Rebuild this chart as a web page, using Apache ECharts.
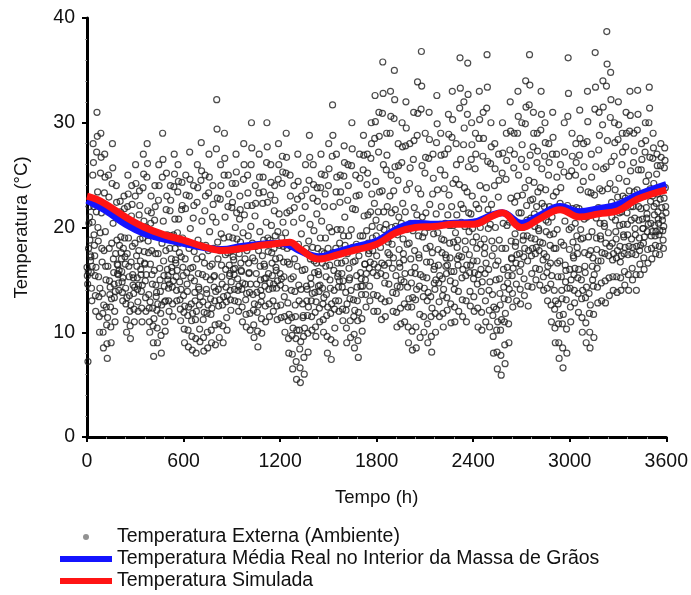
<!DOCTYPE html>
<html>
<head>
<meta charset="utf-8">
<script src="https://cdn.jsdelivr.net/npm/echarts@6/dist/echarts.min.js"></script>
<style>
  html, body { margin: 0; padding: 0; background: #fff; }
  #chart { width: 691px; height: 595px; }
</style>
</head>
<body>
<div id="chart"></div>
<script>
// horas do dia das leituras (a cada 2 h)
const horasDoDia = [0, 2, 4, 6, 8, 10, 12, 14, 16, 18, 20, 22];

// temperatura externa (ambiente), uma linha por dia, 150 dias
const externa = [
  [16.2, 15.4, 14.6, 7.2, 15.8, 18.0, 20.4, 22.0, 21.0, 18.8, 17.4, 16.8],
  [17.2, 15.7, 14.2, 13.0, 16.3, 20.5, 25.0, 28.0, 26.2, 22.0, 19.3, 18.3],
  [17.3, 15.4, 13.5, 12.0, 16.2, 21.5, 27.2, 31.0, 28.7, 23.4, 20.0, 18.7],
  [15.3, 13.4, 11.5, 10.0, 14.2, 19.5, 25.2, 29.0, 26.7, 21.4, 18.0, 16.7],
  [13.7, 11.8, 10.0, 8.5, 12.6, 17.8, 23.3, 27.0, 24.8, 19.6, 16.3, 15.0],
  [12.4, 10.7, 8.9, 7.5, 11.4, 16.3, 21.5, 25.0, 22.9, 18.0, 14.9, 13.6],
  [14.3, 12.4, 10.5, 9.0, 13.2, 18.5, 24.2, 28.0, 25.7, 20.4, 17.0, 15.7],
  [14.6, 13.3, 12.0, 11.0, 13.9, 17.5, 21.4, 24.0, 22.4, 18.8, 16.5, 15.6],
  [16.4, 15.5, 14.7, 14.0, 15.9, 18.3, 20.8, 22.5, 21.5, 19.1, 17.6, 17.0],
  [15.8, 14.8, 13.8, 13.0, 15.2, 18.0, 21.0, 23.0, 21.8, 19.0, 17.2, 16.5],
  [14.2, 12.7, 11.2, 10.0, 13.3, 17.5, 22.0, 25.0, 23.2, 19.0, 16.3, 15.3],
  [13.5, 12.0, 10.6, 9.4, 12.6, 16.7, 21.1, 24.0, 22.2, 18.2, 15.5, 14.5],
  [15.2, 13.7, 12.2, 11.0, 14.3, 18.5, 23.0, 26.0, 24.2, 20.0, 17.3, 16.3],
  [15.2, 14.1, 12.9, 12.0, 14.5, 17.8, 21.2, 23.5, 22.1, 18.9, 16.8, 16.0],
  [15.5, 13.9, 12.3, 11.0, 14.5, 19.0, 23.8, 27.0, 25.1, 20.6, 17.7, 16.6],
  [16.5, 14.9, 13.3, 12.0, 15.5, 20.0, 24.8, 28.0, 26.1, 21.6, 18.7, 17.6],
  [13.6, 12.3, 11.0, 10.0, 12.9, 16.5, 20.4, 23.0, 21.4, 17.8, 15.5, 14.6],
  [12.3, 10.6, 9.0, 7.7, 11.3, 15.9, 20.7, 24.0, 22.0, 17.5, 14.5, 13.4],
  [13.8, 12.1, 10.4, 9.0, 12.7, 17.5, 22.6, 26.0, 24.0, 19.2, 16.1, 15.0],
  [13.9, 11.8, 9.7, 8.0, 12.6, 18.5, 24.8, 29.0, 26.5, 20.6, 16.8, 15.4],
  [14.4, 12.9, 11.0, 10.1, 13.0, 17.8, 21.7, 25.2, 23.0, 19.3, 16.0, 15.0],
  [15.4, 14.2, 13.0, 12.0, 14.6, 18.0, 21.6, 24.0, 22.6, 19.2, 17.0, 16.2],
  [15.8, 14.3, 12.7, 11.5, 14.9, 19.3, 23.9, 27.0, 25.1, 20.8, 18.0, 16.9],
  [16.6, 15.3, 14.0, 13.0, 15.9, 19.5, 23.4, 26.0, 24.4, 20.8, 18.5, 17.6],
  [14.8, 13.1, 12.2, 11.1, 14.1, 17.2, 21.7, 24.3, 22.1, 19.0, 16.2, 15.4],
  [13.5, 11.9, 10.3, 9.0, 12.5, 17.0, 21.8, 25.0, 23.1, 18.6, 15.7, 14.6],
  [13.9, 11.6, 10.2, 8.6, 12.4, 18.0, 23.0, 27.2, 24.6, 19.9, 16.1, 15.2],
  [12.7, 11.1, 9.6, 8.3, 11.8, 16.2, 20.9, 24.0, 22.1, 17.7, 14.9, 13.8],
  [13.0, 11.2, 9.4, 8.0, 12.0, 17.0, 22.4, 26.0, 23.8, 18.8, 15.6, 14.3],
  [14.1, 12.6, 10.3, 9.1, 13.4, 18.3, 24.5, 28.1, 25.4, 20.6, 17.2, 15.5],
  [12.9, 11.2, 9.5, 8.2, 11.9, 16.6, 21.6, 25.0, 23.0, 18.3, 15.3, 14.1],
  [13.7, 11.8, 10.0, 8.5, 12.6, 17.8, 23.3, 27.0, 24.8, 19.6, 16.3, 15.0],
  [13.2, 11.7, 10.2, 9.0, 12.3, 16.5, 21.0, 24.0, 22.2, 18.0, 15.3, 14.3],
  [15.4, 13.0, 10.7, 8.8, 13.9, 20.5, 27.5, 32.2, 29.4, 22.8, 18.6, 17.0],
  [14.1, 12.5, 10.8, 9.5, 13.1, 17.8, 22.7, 26.0, 24.0, 19.4, 16.4, 15.3],
  [14.6, 12.6, 10.6, 9.0, 13.4, 19.0, 25.0, 29.0, 26.6, 21.0, 17.4, 16.0],
  [14.3, 12.9, 11.4, 10.2, 13.5, 17.6, 22.0, 25.0, 23.2, 19.1, 16.4, 15.4],
  [15.6, 14.0, 13.1, 12.1, 14.8, 17.8, 21.9, 24.2, 22.4, 19.0, 17.2, 16.0],
  [16.9, 15.5, 14.1, 13.0, 16.1, 20.0, 24.2, 27.0, 25.3, 21.4, 18.9, 17.9],
  [15.1, 14.0, 12.9, 12.0, 14.4, 17.5, 20.8, 23.0, 21.7, 18.6, 16.6, 15.9],
  [15.8, 14.1, 12.4, 11.0, 14.7, 19.5, 24.6, 28.0, 26.0, 21.2, 18.1, 17.0],
  [14.6, 13.1, 11.7, 10.5, 13.7, 17.8, 22.1, 25.0, 23.3, 19.2, 16.6, 15.6],
  [15.7, 13.8, 11.8, 10.2, 14.6, 20.1, 26.0, 30.0, 27.6, 22.1, 18.5, 17.1],
  [13.6, 12.1, 10.7, 9.5, 12.7, 16.8, 21.1, 24.0, 22.3, 18.2, 15.6, 14.6],
  [13.8, 11.9, 10.1, 8.6, 12.6, 17.8, 23.3, 27.0, 24.8, 19.6, 16.3, 15.0],
  [14.0, 12.9, 11.3, 9.9, 13.5, 17.3, 22.3, 24.8, 23.4, 18.8, 16.5, 15.1],
  [16.3, 14.4, 12.5, 11.0, 15.2, 20.5, 26.2, 30.0, 27.7, 22.4, 19.0, 17.7],
  [15.6, 14.1, 12.7, 11.5, 14.7, 18.8, 23.1, 26.0, 24.3, 20.2, 17.6, 16.6],
  [15.4, 14.2, 13.0, 12.0, 14.6, 18.0, 21.6, 24.0, 22.6, 19.2, 17.0, 16.2],
  [15.9, 14.2, 12.5, 11.2, 14.9, 19.6, 24.6, 28.0, 26.0, 21.3, 18.3, 17.1],
  [15.6, 14.5, 12.6, 11.4, 15.1, 19.0, 24.2, 26.8, 25.3, 20.5, 18.2, 16.7],
  [15.3, 13.4, 11.5, 10.0, 14.2, 19.5, 25.2, 29.0, 26.7, 21.4, 18.0, 16.7],
  [12.8, 11.1, 9.4, 8.0, 11.7, 16.5, 21.6, 25.0, 23.0, 18.2, 15.1, 14.0],
  [11.4, 9.7, 7.9, 6.5, 10.4, 15.3, 20.5, 24.0, 21.9, 17.0, 13.9, 12.6],
  [11.5, 9.4, 7.2, 5.5, 10.2, 16.3, 22.7, 27.0, 24.4, 18.4, 14.5, 13.0],
  [10.2, 8.4, 6.6, 5.2, 9.1, 14.1, 19.4, 23.0, 20.9, 15.9, 12.7, 11.4],
  [11.6, 9.6, 7.6, 6.0, 10.4, 16.0, 22.0, 26.0, 23.6, 18.0, 14.4, 13.0],
  [14.1, 11.6, 9.9, 8.1, 12.4, 18.7, 24.5, 28.8, 26.7, 20.3, 17.0, 15.2],
  [14.6, 13.0, 11.5, 10.2, 13.7, 18.1, 22.8, 26.0, 24.1, 19.7, 16.8, 15.7],
  [13.8, 11.9, 10.5, 9.6, 12.9, 16.6, 21.3, 23.8, 22.5, 18.0, 15.8, 14.4],
  [15.5, 13.9, 12.3, 11.0, 14.5, 19.0, 23.8, 27.0, 25.1, 20.6, 17.7, 16.6],
  [14.2, 12.7, 11.2, 10.0, 13.3, 17.5, 22.0, 25.0, 23.2, 19.0, 16.3, 15.3],
  [13.6, 11.6, 9.6, 8.0, 12.4, 18.0, 24.0, 28.0, 25.6, 20.0, 16.4, 15.0],
  [14.2, 11.8, 9.3, 7.4, 12.7, 19.6, 26.8, 31.7, 28.8, 22.0, 17.6, 15.9],
  [14.0, 12.2, 10.4, 9.0, 13.0, 18.0, 23.4, 27.0, 24.8, 19.8, 16.6, 15.3],
  [15.6, 14.3, 13.0, 12.0, 14.9, 18.5, 22.4, 25.0, 23.4, 19.8, 17.5, 16.6],
  [15.6, 14.3, 12.2, 11.1, 14.9, 19.2, 24.9, 27.8, 26.2, 21.0, 18.3, 16.8],
  [13.8, 12.1, 10.4, 9.0, 12.7, 17.5, 22.6, 26.0, 24.0, 19.2, 16.1, 15.0],
  [15.2, 13.2, 11.1, 9.5, 14.0, 19.8, 25.9, 30.0, 27.5, 21.8, 18.1, 16.7],
  [13.1, 11.5, 9.8, 8.5, 12.1, 16.8, 21.7, 25.0, 23.0, 18.4, 15.4, 14.3],
  [13.0, 11.1, 9.2, 7.6, 11.9, 17.3, 23.1, 27.0, 24.7, 19.2, 15.7, 14.4],
  [15.1, 13.6, 11.3, 10.1, 14.4, 19.2, 25.5, 28.8, 26.9, 21.1, 18.2, 16.5],
  [16.5, 15.0, 13.6, 12.4, 15.6, 19.7, 24.1, 27.0, 25.2, 21.2, 18.5, 17.5],
  [17.8, 16.1, 14.4, 13.0, 16.7, 21.5, 26.6, 30.0, 28.0, 23.2, 20.1, 19.0],
  [17.8, 15.7, 13.6, 12.0, 16.5, 22.3, 28.5, 32.6, 30.1, 24.4, 20.7, 19.2],
  [17.3, 15.4, 13.5, 12.0, 16.2, 21.5, 27.2, 31.0, 28.7, 23.4, 20.0, 18.7],
  [18.1, 15.6, 13.2, 11.2, 16.6, 23.5, 30.9, 35.8, 32.8, 26.0, 21.5, 19.8],
  [16.4, 14.7, 12.9, 11.5, 15.4, 20.3, 25.5, 29.0, 26.9, 22.0, 18.9, 17.6],
  [18.6, 16.6, 14.6, 13.0, 17.4, 23.0, 29.0, 33.0, 30.6, 25.0, 21.4, 20.0],
  [18.4, 16.1, 13.8, 12.0, 17.1, 23.5, 30.4, 35.0, 32.2, 25.8, 21.7, 20.1],
  [15.4, 13.7, 11.9, 10.5, 14.4, 19.3, 24.5, 28.0, 25.9, 21.0, 17.9, 16.6],
  [16.2, 14.3, 12.3, 10.8, 15.0, 20.4, 26.2, 30.0, 27.7, 22.3, 18.9, 17.5],
  [16.9, 14.8, 12.7, 11.0, 15.6, 21.5, 27.8, 32.0, 29.5, 23.6, 19.8, 18.4],
  [14.3, 12.4, 10.5, 9.0, 13.2, 18.5, 24.2, 28.0, 25.7, 20.4, 17.0, 15.7],
  [14.7, 12.4, 10.1, 8.3, 13.3, 19.7, 26.5, 31.0, 28.3, 21.9, 17.8, 16.2],
  [15.6, 13.1, 10.5, 8.5, 14.1, 21.2, 28.8, 33.9, 30.9, 23.7, 19.2, 17.4],
  [17.1, 14.4, 11.7, 9.5, 15.5, 23.2, 31.3, 36.8, 33.5, 25.9, 21.0, 19.1],
  [15.3, 13.4, 11.5, 10.0, 14.2, 19.5, 25.2, 29.0, 26.7, 21.4, 18.0, 16.7],
  [15.2, 13.0, 10.8, 9.0, 13.8, 20.0, 26.6, 31.0, 28.4, 22.2, 18.2, 16.7],
  [13.4, 11.5, 9.6, 8.1, 12.3, 17.6, 23.2, 27.0, 24.7, 19.4, 16.0, 14.7],
  [16.3, 14.1, 11.8, 10.0, 15.0, 21.3, 28.1, 32.6, 29.9, 23.6, 19.5, 17.9],
  [16.4, 14.7, 12.9, 11.5, 15.4, 20.3, 25.5, 29.0, 26.9, 22.0, 18.9, 17.6],
  [15.1, 13.5, 11.8, 10.5, 14.1, 18.8, 23.7, 27.0, 25.0, 20.4, 17.4, 16.3],
  [17.1, 15.6, 13.3, 12.1, 16.4, 21.2, 27.5, 30.8, 28.9, 23.1, 20.2, 18.5],
  [17.1, 14.9, 12.7, 10.9, 15.8, 22.0, 28.6, 33.0, 30.3, 24.2, 20.2, 18.6],
  [15.8, 14.1, 12.4, 11.0, 14.7, 19.5, 24.6, 28.0, 26.0, 21.2, 18.1, 17.0],
  [18.8, 16.4, 13.9, 12.0, 17.3, 24.1, 31.4, 36.2, 33.3, 26.5, 22.2, 20.5],
  [17.2, 15.2, 13.1, 11.5, 16.0, 21.8, 27.9, 32.0, 29.5, 23.8, 20.1, 18.7],
  [17.9, 15.4, 13.0, 11.0, 16.4, 23.4, 30.8, 35.7, 32.7, 25.8, 21.4, 19.6],
  [17.4, 15.7, 13.9, 12.5, 16.4, 21.3, 26.5, 30.0, 27.9, 23.0, 19.9, 18.6],
  [16.8, 15.1, 13.4, 12.0, 15.7, 20.5, 25.6, 29.0, 27.0, 22.2, 19.1, 18.0],
  [16.8, 14.6, 12.3, 10.5, 15.5, 21.8, 28.5, 33.0, 30.3, 24.0, 20.0, 18.4],
  [16.0, 13.9, 11.9, 10.2, 14.8, 20.6, 26.8, 31.0, 28.5, 22.7, 18.9, 17.5],
  [18.1, 15.6, 13.0, 11.0, 16.6, 23.8, 31.4, 36.5, 33.4, 26.3, 21.7, 19.9],
  [16.0, 14.0, 12.1, 10.5, 14.8, 20.3, 26.1, 30.0, 27.7, 22.2, 18.7, 17.3],
  [13.6, 11.6, 9.6, 8.0, 12.4, 18.0, 24.0, 28.0, 25.6, 20.0, 16.4, 15.0],
  [12.2, 10.2, 8.1, 6.5, 11.0, 16.8, 22.9, 27.0, 24.5, 18.8, 15.1, 13.7],
  [12.6, 10.2, 7.8, 5.9, 11.2, 18.0, 25.2, 30.0, 27.1, 20.4, 16.0, 14.3],
  [13.2, 11.0, 8.8, 7.0, 11.8, 18.0, 24.6, 29.0, 26.4, 20.2, 16.2, 14.7],
  [15.4, 13.1, 10.8, 9.0, 14.1, 20.5, 27.4, 32.0, 29.2, 22.8, 18.7, 17.1],
  [17.0, 15.4, 13.7, 12.4, 16.1, 20.7, 25.7, 29.0, 27.0, 22.4, 19.4, 18.2],
  [18.6, 16.6, 14.6, 13.0, 17.4, 23.0, 29.0, 33.0, 30.6, 25.0, 21.4, 20.0],
  [17.5, 15.8, 14.1, 12.7, 16.5, 21.4, 26.5, 30.0, 27.9, 23.1, 20.0, 18.8],
  [19.2, 17.2, 15.1, 13.5, 18.0, 23.8, 29.9, 34.0, 31.5, 25.8, 22.1, 20.7],
  [19.2, 16.8, 14.4, 12.5, 17.8, 24.5, 31.7, 36.5, 33.6, 26.9, 22.6, 20.9],
  [19.0, 17.3, 15.6, 14.3, 18.0, 22.7, 27.7, 31.0, 29.0, 24.3, 21.3, 20.1],
  [18.9, 17.5, 16.1, 15.0, 18.1, 22.0, 26.2, 29.0, 27.3, 23.4, 20.9, 19.9],
  [19.7, 17.8, 16.0, 14.5, 18.6, 23.8, 29.3, 33.0, 30.8, 25.6, 22.3, 21.0],
  [18.5, 16.9, 15.3, 14.0, 17.5, 22.0, 26.8, 30.0, 28.1, 23.6, 20.7, 19.6],
  [17.2, 15.7, 14.2, 13.0, 16.3, 20.5, 25.0, 28.0, 26.2, 22.0, 19.3, 18.3],
  [16.6, 14.6, 12.6, 11.0, 15.4, 21.0, 27.0, 31.0, 28.6, 23.0, 19.4, 18.0],
  [14.0, 12.2, 10.4, 9.0, 13.0, 18.0, 23.4, 27.0, 24.8, 19.8, 16.6, 15.3],
  [12.7, 10.8, 9.0, 7.5, 11.6, 16.8, 22.3, 26.0, 23.8, 18.6, 15.3, 14.0],
  [13.2, 10.8, 8.5, 6.6, 11.7, 18.3, 25.3, 30.0, 27.2, 20.6, 16.4, 14.8],
  [15.9, 13.1, 10.3, 8.0, 14.2, 22.1, 30.6, 36.2, 32.8, 24.9, 19.8, 17.9],
  [16.0, 14.2, 12.4, 11.0, 15.0, 20.0, 25.4, 29.0, 26.8, 21.8, 18.6, 17.3],
  [17.1, 15.5, 14.0, 12.8, 16.1, 20.4, 25.0, 28.0, 26.2, 21.9, 19.2, 18.1],
  [17.5, 15.2, 13.7, 11.9, 16.0, 21.8, 26.9, 31.2, 28.5, 23.6, 19.8, 18.9],
  [15.0, 13.2, 11.4, 10.0, 14.0, 19.0, 24.4, 28.0, 25.8, 20.8, 17.6, 16.3],
  [15.7, 13.3, 10.9, 9.0, 14.3, 21.0, 28.2, 33.0, 30.1, 23.4, 19.1, 17.4],
  [13.7, 11.8, 10.0, 8.5, 12.6, 17.8, 23.3, 27.0, 24.8, 19.6, 16.3, 15.0],
  [17.1, 14.4, 11.7, 9.5, 15.5, 23.1, 31.3, 36.7, 33.4, 25.8, 20.9, 19.0],
  [17.9, 16.1, 14.3, 12.8, 16.8, 21.9, 27.4, 31.0, 28.8, 23.7, 20.4, 19.2],
  [18.9, 16.8, 14.7, 13.0, 17.6, 23.5, 29.8, 34.0, 31.5, 25.6, 21.8, 20.4],
  [20.1, 17.5, 14.9, 12.8, 18.5, 25.8, 33.5, 38.7, 35.6, 28.3, 23.7, 21.9],
  [19.5, 17.3, 15.2, 13.5, 18.2, 24.2, 30.5, 34.8, 32.2, 26.3, 22.4, 21.0],
  [18.5, 16.9, 15.3, 14.0, 17.5, 22.0, 26.8, 30.0, 28.1, 23.6, 20.7, 19.6],
  [18.9, 17.1, 15.3, 13.8, 17.8, 22.9, 28.4, 32.0, 29.8, 24.7, 21.4, 20.2],
  [18.2, 16.7, 15.2, 14.0, 17.3, 21.5, 26.0, 29.0, 27.2, 23.0, 20.3, 19.3],
  [19.1, 17.5, 15.8, 14.5, 18.1, 22.8, 27.7, 31.0, 29.0, 24.4, 21.4, 20.3],
  [19.3, 17.4, 15.5, 14.0, 18.2, 23.5, 29.2, 33.0, 30.7, 25.4, 22.0, 20.7],
  [18.9, 17.5, 16.1, 15.0, 18.1, 22.0, 26.2, 29.0, 27.3, 23.4, 20.9, 19.9],
  [19.3, 17.4, 15.5, 14.0, 18.2, 23.6, 29.3, 33.1, 30.8, 25.5, 22.0, 20.7],
  [19.0, 17.8, 16.5, 15.5, 18.3, 21.8, 25.5, 28.0, 26.5, 23.0, 20.8, 19.9],
  [19.9, 18.5, 17.1, 16.0, 19.1, 23.0, 27.2, 30.0, 28.3, 24.4, 21.9, 20.9],
  [21.3, 19.6, 17.9, 16.6, 20.3, 25.0, 30.0, 33.4, 31.4, 26.7, 23.7, 22.5],
  [20.4, 19.2, 18.0, 17.0, 19.6, 23.0, 26.6, 29.0, 27.6, 24.2, 22.0, 21.2],
  [20.2, 19.2, 18.3, 17.5, 19.6, 22.3, 25.1, 27.0, 25.9, 23.2, 21.5, 20.8],
  [20.4, 19.3, 18.2, 17.4, 19.7, 22.7, 25.9, 28.0, 26.7, 23.8, 21.9, 21.1],
  [20.7, 19.7, 18.8, 18.0, 20.1, 22.8, 25.7, 27.6, 26.4, 23.8, 22.0, 21.4]
];

// curvas da massa de graos
const horasLinha = [0, 60, 120, 240, 360, 480, 600, 720, 840, 960, 1080, 1200, 1260, 1320, 1440, 1560, 1680, 1800, 1920, 2040, 2160, 2280, 2400, 2520, 2580, 2700, 2820, 2940, 3060, 3180, 3300, 3420, 3600];
const tempReal = [22.6, 22.1, 21.6, 20.3, 19.4, 18.9, 18.5, 18.1, 17.9, 18.2, 18.4, 18.5, 18.3, 17.8, 17.2, 17.7, 18.2, 18.7, 19.8, 20.4, 20.3, 20.4, 20.5, 21.2, 21.4, 20.4, 21.2, 22.0, 21.5, 21.8, 22.2, 23.1, 24.1];
const tempSimulada = [23.0, 22.7, 22.2, 21.0, 20.0, 19.3, 18.8, 18.2, 17.8, 18.0, 18.3, 18.5, 18.6, 18.0, 17.0, 17.4, 17.9, 18.4, 19.5, 20.0, 20.1, 20.3, 20.3, 21.1, 21.4, 20.0, 20.9, 21.7, 21.0, 21.3, 21.6, 22.7, 23.6];

const nomes = [
  "Temperatura Externa (Ambiente)",
  "Temperatura Média Real no Interior da Massa de Grãos",
  "Temperatura Simulada"
];

const pontosExterna = [];
externa.forEach((dia, d) => {
  dia.forEach((t, k) => pontosExterna.push([d * 24 + horasDoDia[k], t]));
});

const fonte = "'Liberation Sans', Arial, sans-serif";
const eixo = {
  axisLine: { show: true, lineStyle: { color: "#000", width: 3 } },
  axisTick: { show: true, inside: false, length: 5, lineStyle: { color: "#000", width: 2 } },
  minorTick: { show: true, splitNumber: 5, length: 2, lineStyle: { color: "#999", width: 1 } },
  splitLine: { show: false },
  axisLabel: { color: "#111", fontSize: 19.5, fontFamily: fonte, formatter: (v) => String(v) }
};

const chart = echarts.init(document.getElementById("chart"));
chart.setOption({
  backgroundColor: "#fff",
  animation: false,
  grid: { left: 87, right: 24, top: 18, bottom: 158 },
  xAxis: Object.assign({
    type: "value", min: 0, max: 3600, interval: 600,
    name: "Tempo (h)", nameLocation: "middle", nameGap: 51,
    nameTextStyle: { color: "#111", fontSize: 18.5, fontFamily: fonte }
  }, eixo, { axisLabel: Object.assign({}, eixo.axisLabel, { margin: 15 }) }),
  yAxis: Object.assign({
    type: "value", min: 0, max: 40, interval: 10,
    name: "Temperatura (°C)", nameLocation: "middle", nameGap: 56, nameRotate: 90,
    nameTextStyle: { color: "#111", fontSize: 18.5, fontFamily: fonte }
  }, eixo, { axisLabel: Object.assign({}, eixo.axisLabel, { margin: 12 }) }),
  legend: {
    orient: "vertical",
    left: 60,
    top: 527,
    height: 80,
    padding: 0,
    itemWidth: 52,
    itemHeight: 6,
    itemGap: 2,
    textStyle: { color: "#111", fontSize: 19.5, fontFamily: fonte, lineHeight: 19 },
    data: [
      { name: nomes[0], icon: "circle", itemStyle: { color: "#777", borderWidth: 0 } },
      { name: nomes[1], icon: "rect" },
      { name: nomes[2], icon: "rect" }
    ]
  },
  series: [
    {
      name: nomes[0],
      type: "scatter",
      symbol: "circle",
      symbolSize: 6,
      data: pontosExterna,
      itemStyle: { color: "rgba(255,255,255,0)", borderColor: "#1e1e1e", borderWidth: 1.2 }
    },
    {
      name: nomes[1],
      type: "line",
      smooth: 0.4,
      showSymbol: false,
      data: horasLinha.map((h, i) => [h, tempReal[i]]),
      itemStyle: { color: "#1414ff" },
      lineStyle: { color: "#1414ff", width: 7 }
    },
    {
      name: nomes[2],
      type: "line",
      smooth: 0.4,
      showSymbol: false,
      data: horasLinha.map((h, i) => [h, tempSimulada[i]]),
      itemStyle: { color: "#ff1414" },
      lineStyle: { color: "#ff1414", width: 7 }
    }
  ]
});
</script>
</body>
</html>
